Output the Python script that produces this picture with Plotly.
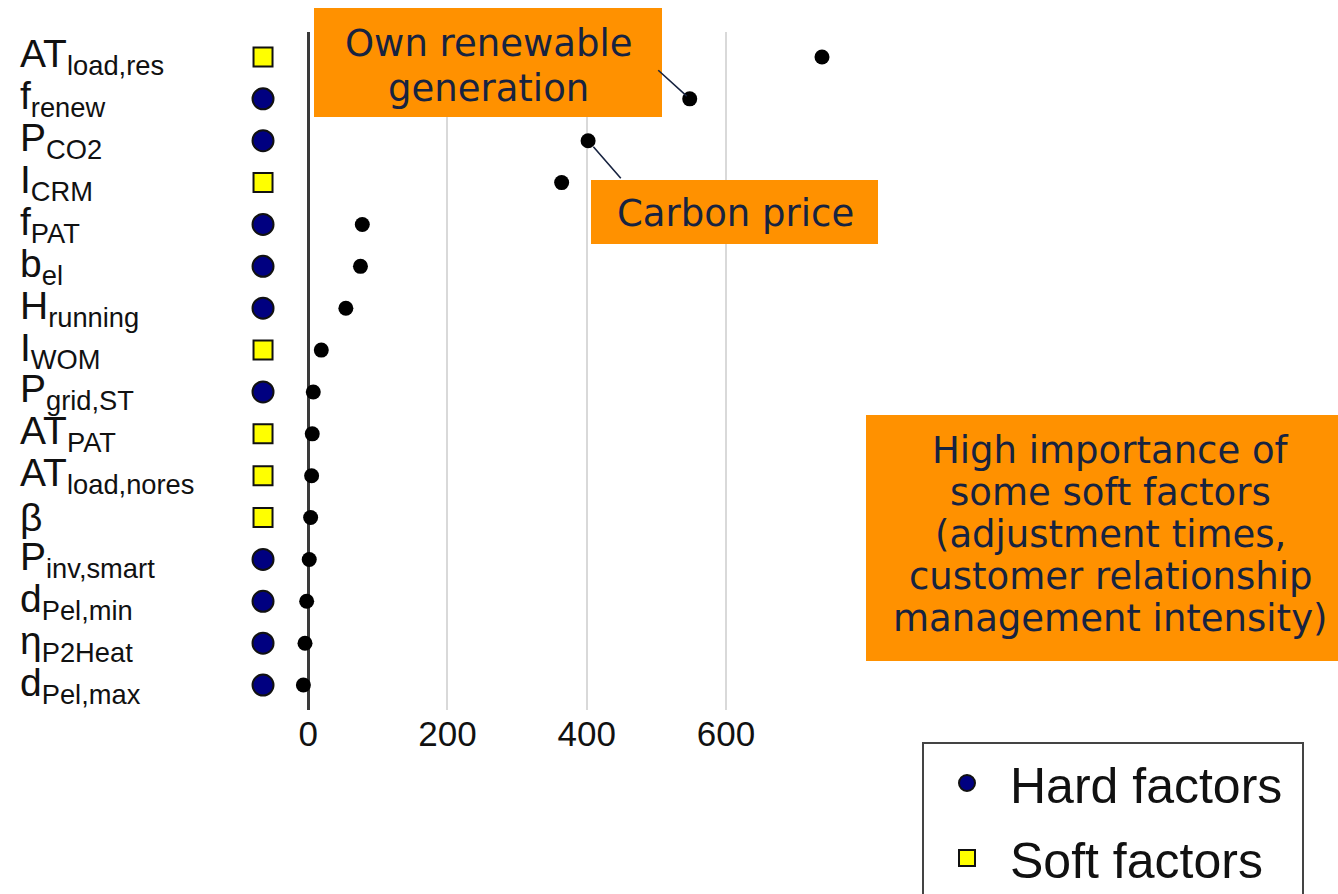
import plotly.graph_objects as go

# ---------------- data ----------------
factors = [
    "AT<sub>load,res</sub>", "f<sub>renew</sub>", "P<sub>CO2</sub>", "I<sub>CRM</sub>",
    "f<sub>PAT</sub>", "b<sub>el</sub>", "H<sub>running</sub>", "I<sub>WOM</sub>",
    "P<sub>grid,ST</sub>", "AT<sub>PAT</sub>", "AT<sub>load,nores</sub>", "β",
    "P<sub>inv,smart</sub>", "d<sub>Pel,min</sub>", "η<sub>P2Heat</sub>", "d<sub>Pel,max</sub>",
]
importance = [738, 548, 402, 364, 77.6, 75, 54, 18.7, 7.2, 5.7, 4.8, 3.4, 1.4, -2.3, -4.7, -7]
factor_type = [
    "Soft factors", "Hard factors", "Hard factors", "Soft factors",
    "Hard factors", "Hard factors", "Hard factors", "Soft factors",
    "Hard factors", "Soft factors", "Soft factors", "Soft factors",
    "Hard factors", "Hard factors", "Hard factors", "Hard factors",
]
x_ticks = [0, 200, 400, 600]

# ---------------- helpers ----------------
W, H = 1338, 894
def px(x):
    return x / W
def py(y):
    return 1 - y / H

ORANGE = "#FF9100"
NAVY_TXT = "#172340"
LBL_FONT = "Liberation Sans, Arial, sans-serif"
BOX_FONT = "DejaVu Sans, Verdana, sans-serif"
MARK_X = -65  # column holding the factor-type symbols

rows = list(range(len(factors)))
fig = go.Figure()

styles = {
    "Hard factors": dict(symbol="circle", color="#000080", size=21),
    "Soft factors": dict(symbol="square", color="#FFFF00", size=19),
}
for name, st in styles.items():
    ys = [r for r, t in zip(rows, factor_type) if t == name]
    fig.add_trace(go.Scatter(
        x=[MARK_X] * len(ys), y=ys, mode="markers", name=name + "\u00a0", legendgroup=name,
        marker=dict(symbol=st["symbol"], color=st["color"], size=st["size"],
                    line=dict(color="#111111", width=2)),
    ))

fig.add_trace(go.Scatter(
    x=importance, y=rows, mode="markers", showlegend=False,
    marker=dict(color="black", size=15),
))

annotations = []
for r, lab in zip(rows, factors):
    annotations.append(dict(
        x=px(18), xref="paper", y=r, yref="y", text=lab, showarrow=False,
        xanchor="left", yanchor="middle",
        font=dict(family=LBL_FONT, size=39, color="#111111"),
    ))

shapes = []
def box(x0, y0, x1, y1):
    shapes.append(dict(type="rect", xref="paper", yref="paper",
                       x0=px(x0), x1=px(x1), y0=py(y1), y1=py(y0),
                       fillcolor=ORANGE, line=dict(width=0), layer="above"))

def line_text(txt, xc, yc, size):
    annotations.append(dict(x=px(xc), y=py(yc), xref="paper", yref="paper",
                            text=txt, showarrow=False, xanchor="center", yanchor="middle",
                            font=dict(family=BOX_FONT, size=size, color=NAVY_TXT)))

box(314, 8, 662, 117)
line_text("Own renewable", 488, 44, 37)
line_text("generation", 488, 88, 37)

box(591, 180, 878, 244)
line_text("Carbon price", 735, 213, 37)

box(866, 415, 1338, 661)
for k, t in enumerate(["High importance of", "some soft factors", "(adjustment times,",
                       "customer relationship", "management intensity)"]):
    line_text(t, 1110, 450 + 42 * k, 37)

# connector lines
annotations.append(dict(x=importance[1], y=rows[1], xref="x", yref="y", text="",
                        showarrow=True, arrowhead=0, arrowwidth=1.6, arrowcolor=NAVY_TXT,
                        ax=-33, ay=-30, standoff=4))
annotations.append(dict(x=importance[2], y=rows[2], xref="x", yref="y", text="",
                        showarrow=True, arrowhead=0, arrowwidth=1.6, arrowcolor=NAVY_TXT,
                        ax=34, ay=39, standoff=8))

fig.update_layout(
    width=W, height=H,
    margin=dict(l=0, r=0, t=0, b=0, autoexpand=False),
    paper_bgcolor="white", plot_bgcolor="white",
    xaxis=dict(domain=[px(231.7), px(837.3)], range=[-110, 760],
               tickvals=x_ticks, ticktext=[str(v) for v in x_ticks],
               showgrid=True, gridcolor="#d9d9d9", gridwidth=2,
               zeroline=True, zerolinecolor="#3a3a3a", zerolinewidth=3,
               showline=False, ticks="",
               tickfont=dict(family=LBL_FONT, size=35, color="#111111")),
    yaxis=dict(domain=[py(710), py(32)], range=[15.596, -0.597], visible=False),
    legend=dict(x=px(922), y=py(742), xanchor="left", yanchor="top",
                bordercolor="#444444", borderwidth=2, bgcolor="white",
                font=dict(family=LBL_FONT, size=50, color="#111111"),
                itemwidth=76, traceorder="grouped", tracegroupgap=7),
    annotations=annotations,
    shapes=shapes,
    showlegend=True,
)

fig.write_html("out.html", config={"displayModeBar": False},
               post_script="document.body.style.margin='0';document.body.style.overflow='hidden';")
